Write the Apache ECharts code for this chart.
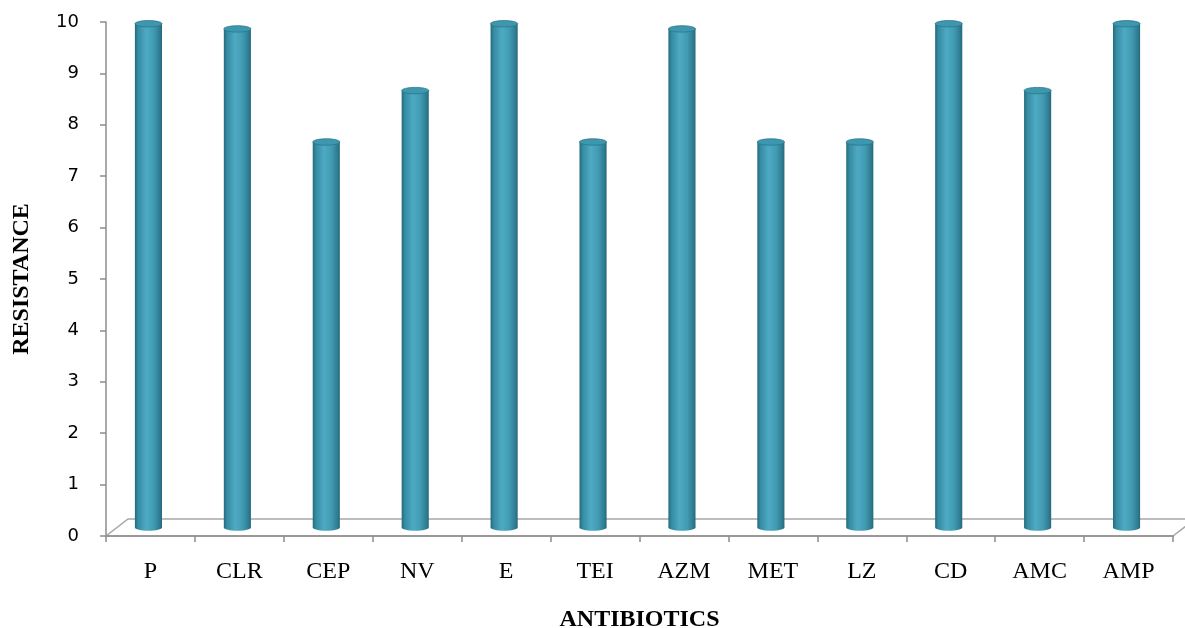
<!DOCTYPE html>
<html>
<head>
<meta charset="utf-8">
<script src="https://cdn.jsdelivr.net/npm/echarts@6/dist/echarts.min.js"></script>
<style>
html,body{margin:0;padding:0;background:#fff;}
#chart{width:1185px;height:628px;}
</style>
</head>
<body>
<div id="chart"></div>
<script>
var categories = ['P','CLR','CEP','NV','E','TEI','AZM','MET','LZ','CD','AMC','AMP'];
var resistance = [9.8, 9.7, 7.5, 8.5, 9.8, 7.5, 9.7, 7.5, 7.5, 9.8, 8.5, 9.8];
var yTicks = [0,1,2,3,4,5,6,7,8,9,10];

var chart = echarts.init(document.getElementById('chart'));

var DEPTH_X = 22, DEPTH_Y = 17;   // floor depth (3D look)
var BAR_DX = -2, BAR_DY = -8.5;   // bars stand at mid-depth

var bodyGrad = new echarts.graphic.LinearGradient(0,0,1,0,[
  {offset:0, color:'#26697c'},
  {offset:0.12, color:'#358ca3'},
  {offset:0.42, color:'#4eaac3'},
  {offset:0.7, color:'#409ab2'},
  {offset:0.9, color:'#307e93'},
  {offset:1, color:'#26697c'}
]);

function renderBar(params, api){
  var i = api.value(0), v = api.value(1);
  var top = api.coord([i, v]);
  var base = api.coord([i, 0]);
  var bw = api.size([1,0])[0]*0.305;
  var cx = top[0] + BAR_DX;
  var ty = top[1] + BAR_DY, by = base[1] + BAR_DY;
  var rx = bw/2, ry = 3.2;
  return {
    type:'group',
    children:[
      {type:'ellipse', shape:{cx:cx, cy:by, rx:rx, ry:ry}, style:{fill:bodyGrad}},
      {type:'rect', shape:{x:cx-rx, y:ty, width:bw, height:by-ty}, style:{fill:bodyGrad}},
      {type:'ellipse', shape:{cx:cx, cy:ty, rx:rx, ry:ry}, style:{fill:'#3d98af', stroke:'#2c7589', lineWidth:0.8}}
    ]
  };
}

function renderFloor(params, api){
  var cs = params.coordSys;
  var x0 = cs.x, x1 = cs.x + cs.width, yb = cs.y + cs.height;
  return {
    type:'polygon',
    shape:{points:[[x0,yb],[x1,yb],[x1+DEPTH_X,yb-DEPTH_Y],[x0+DEPTH_X,yb-DEPTH_Y]]},
    style:{fill:'#ffffff', stroke:'#a8a8a8', lineWidth:1.5},
    silent:true
  };
}

var option = {
  animation:false,
  backgroundColor:'#ffffff',
  grid:{left:106, right:12, top:22, bottom:92, containLabel:false, outerBoundsMode:'none'},
  xAxis:{
    type:'category',
    data:categories,
    boundaryGap:true,
    name:'ANTIBIOTICS',
    nameLocation:'middle',
    nameGap:72,
    nameTextStyle:{fontFamily:'Liberation Serif', fontWeight:'bold', fontSize:24, color:'#000'},
    axisLine:{show:true, lineStyle:{color:'#8c8c8c', width:1.5}},
    axisTick:{show:true, alignWithLabel:false, length:6, lineStyle:{color:'#8c8c8c', width:1.5}},
    axisLabel:{fontFamily:'Liberation Serif', fontSize:24, color:'#000', margin:24},
    splitLine:{show:false},
    z:5
  },
  yAxis:{
    type:'value',
    min:0, max:10, interval:1,
    name:'RESISTANCE',
    nameLocation:'middle',
    nameGap:72,
    nameRotate:90,
    nameTextStyle:{fontFamily:'Liberation Serif', fontWeight:'bold', fontSize:24, color:'#000'},
    axisLine:{show:true, lineStyle:{color:'#8c8c8c', width:1.5}},
    axisTick:{show:true, length:6, lineStyle:{color:'#8c8c8c', width:1.5}},
    axisLabel:{fontFamily:'DejaVu Sans', fontSize:18, color:'#000', margin:27,
      formatter:function(v){ return yTicks.indexOf(v) >= 0 ? String(v) : ''; }},
    splitLine:{show:false}
  },
  series:[
    {type:'custom', name:'floor', data:[[0,0]], renderItem:renderFloor, z:1, silent:true},
    {type:'custom', name:'resistance', data:resistance.map(function(v,i){return [i,v];}), renderItem:renderBar, z:3,
      encode:{x:0, y:1}}
  ]
};
chart.setOption(option);
</script>
</body>
</html>
